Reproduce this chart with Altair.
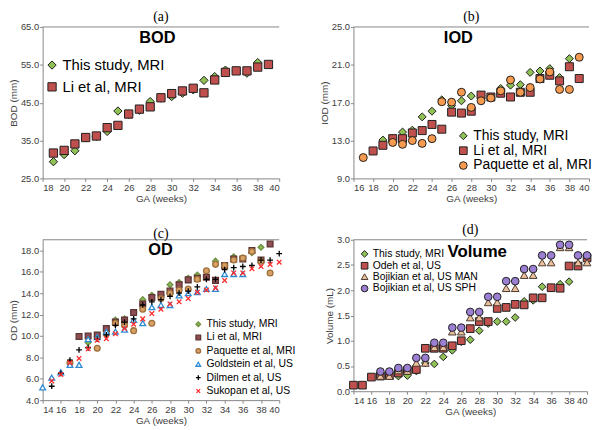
import altair as alt
import pandas as pd

# ---------------- (a) BOD ----------------
a_this_weeks = list(range(19, 39))
a_this_vals = [29.4, 31.3, 32.3, 35.7, 36.1, 37.4, 42.8, 41.9, 43.0, 45.3, 46.2, 46.6,
               47.5, 48.4, 50.9, 51.9, 53.6, 53.4, 52.8, 55.6]
a_li_weeks = list(range(19, 40))
a_li_vals = [31.7, 32.4, 34.1, 35.8, 36.2, 38.4, 39.0, 42.0, 43.3, 43.9, 46.3, 47.4,
             48.1, 48.8, 47.6, 51.0, 53.0, 53.4, 53.4, 54.4, 55.1]

# ---------------- (b) IOD ----------------
b_this_weeks = list(range(19, 39))
b_this_vals = [13.05, 13.2, 13.9, 14.1, 15.5, 16.1, 17.3, 16.7, 17.2, 17.7, 17.8, 17.6,
               18.5, 18.85, 18.9, 20.2, 20.35, 20.6, 19.65, 21.65]
b_li_weeks = list(range(18, 40))
b_li_vals = [11.9, 12.5, 13.2, 13.2, 13.8, 14.05, 14.7, 14.2, 16.0, 15.9, 16.1, 17.8,
             17.6, 18.0, 17.6, 18.1, 18.1, 19.55, 19.9, 19.3, 20.8, 19.55]
b_paq_weeks = [17] + list(range(20, 40))
b_paq_vals = [11.2, 12.8, 12.6, 13.0, 12.7, 13.2, 17.1, 17.05, 18.1, 16.5, 17.2, 17.5,
              18.25, 19.4, 18.1, 18.6, 19.5, 20.25, 18.4, 18.4, 21.8]

# ---------------- (c) OD ----------------
c_this_weeks = list(range(19, 39))
c_this_vals = [9.4, 9.9, 10.5, 11.5, 11.6, 12.2, 13.4, 13.8, 13.8, 14.8, 15.0, 15.4,
               15.7, 15.6, 17.0, 16.6, 17.4, 17.3, 17.8, 18.3]
c_li_weeks = list(range(18, 40))
c_li_vals = [9.95, 10.0, 10.1, 10.7, 11.3, 11.5, 12.2, 13.0, 13.6, 13.9, 14.2, 14.8,
             15.25, 15.4, 15.5, 15.2, 16.6, 17.2, 17.2, 18.0, 17.1, 18.6]
c_paq_weeks = [17] + list(range(20, 40))
c_paq_vals = [7.5, 8.85, 10.2, 11.2, 11.0, 10.5, 12.5, 11.2, 13.5, 14.0, 14.3, 14.4,
              15.3, 16.1, 16.7, 16.6, 17.1, 17.3, 17.9, 17.0, 15.9]
c_gold_weeks = list(range(14, 37))
c_gold_vals = [5.2, 6.1, 6.6, 7.3, 7.3, 9.7, 9.9, 10.4, 10.4, 10.6, 11.5, 11.2, 12.7,
               12.9, 12.9, 13.8, 14.0, 14.1, 14.4, 14.4, 15.8, 15.8, 15.8]
c_dil_weeks = list(range(15, 41))
c_dil_vals = [5.3, 6.5, 7.75, 8.7, 8.9, 9.7, 10.1, 11.0, 11.3, 11.6, 12.9, 13.2, 13.4,
              13.7, 14.0, 14.2, 14.6, 15.3, 15.3, 16.2, 16.4, 16.5, 16.6, 17.1, 17.1, 17.7]
c_suk_weeks = list(range(15, 41))
c_suk_vals = [5.8, 6.4, 7.5, 7.9, 8.8, 9.6, 9.75, 10.2, 10.7, 11.1, 11.6, 12.1, 12.5,
              13.0, 13.2, 13.5, 14.1, 14.3, 14.5, 15.2, 15.9, 15.9, 16.3, 16.5, 16.7, 16.9]

# ---------------- (d) Volume ----------------
d_this_weeks = list(range(19, 39))
d_this_vals = [0.30, 0.31, 0.40, 0.56, 0.54, 0.68, 0.81, 0.98, 1.02, 1.20, 1.34, 1.38,
               1.38, 1.46, 1.78, 1.80, 2.07, 2.05, 2.12, 2.17]
d_odeh_weeks = list(range(14, 41))
d_odeh_vals = [0.12, 0.12, 0.28, 0.30, 0.31, 0.36, 0.41, 0.43, 0.85, 0.85, 0.85, 0.90,
               1.00, 1.24, 1.38, 1.38, 1.64, 1.66, 1.72, 1.71, 1.85, 1.85, 2.05, 2.04,
               2.48, 2.48, 2.64]
d_man_weeks = list(range(17, 41))
d_man_vals = [0.30, 0.30, 0.41, 0.40, 0.56, 0.56, 0.87, 0.87, 1.18, 1.18, 1.46, 1.46,
              1.76, 1.76, 2.04, 2.04, 2.30, 2.30, 2.55, 2.55, 2.85, 2.85, 2.55, 2.55]
d_sph_weeks = list(range(17, 41))
d_sph_vals = [0.39, 0.39, 0.46, 0.46, 0.66, 0.66, 0.96, 0.96, 1.26, 1.26, 1.57, 1.57,
              1.87, 1.87, 2.18, 2.18, 2.42, 2.42, 2.69, 2.69, 2.90, 2.90, 2.69, 2.69]

FONT = "Liberation Sans"
SERIF = "Liberation Serif"
AXC = "#868686"
TXT = "#404040"
PLUS = "M-1,0L1,0M0,-1L0,1"
XMARK = "M-0.8,-0.8L0.8,0.8M0.8,-0.8L-0.8,0.8"


def make_df(groups):
    rows = []
    for name, weeks, vals in groups:
        for w, v in zip(weeks, vals):
            rows.append({"series": name, "ga": w, "val": v})
    return pd.DataFrame(rows)


def panel(letter, label, label_xy, label_size, ytitle, groups, shapes, fills, strokes,
          xdom, ydom, yvals, w, h, size, sw, lx, ly, lfs, lsym, lrow):
    df = make_df(groups)
    names = [g[0] for g in groups]
    leg = alt.Legend(orient="none", legendX=lx, legendY=ly, title=None,
                     labelFont=FONT, labelFontSize=lfs, labelColor="#000000",
                     symbolSize=lsym, rowPadding=lrow, padding=0, labelOffset=3,
                     symbolStrokeWidth=sw, values=names, labelLimit=400)
    x = alt.X("ga:Q", scale=alt.Scale(domain=xdom, nice=False, zero=False),
              axis=alt.Axis(values=list(range(xdom[0], xdom[1] + 1, 2)), title="GA (weeks)",
                            format="d"))
    y = alt.Y("val:Q", scale=alt.Scale(domain=ydom, nice=False, zero=False),
              axis=alt.Axis(values=yvals, format=".1f", title=ytitle))
    pts = alt.Chart(df).mark_point(filled=True, size=size, strokeWidth=sw, opacity=1).encode(
        x=x, y=y,
        shape=alt.Shape("series:N", scale=alt.Scale(domain=names, range=shapes), legend=leg),
        fill=alt.Fill("series:N", scale=alt.Scale(domain=names, range=fills), legend=leg),
        stroke=alt.Stroke("series:N", scale=alt.Scale(domain=names, range=strokes), legend=leg),
    )
    top = alt.Chart(pd.DataFrame({"k": [0]})).mark_rule(color=AXC, strokeWidth=1).encode(
        x=alt.value(0), x2=alt.value(w), y=alt.value(0))
    txt = alt.Chart(pd.DataFrame({"t": [label]})).mark_text(
        font=FONT, fontWeight="bold", fontSize=label_size, color="#000000",
        baseline="middle", align="center").encode(
        text="t:N", x=alt.value(label_xy[0]), y=alt.value(label_xy[1]))
    return alt.layer(top, pts, txt).properties(
        width=w, height=h,
        title=alt.TitleParams(letter, font=SERIF, fontSize=14, fontWeight="normal",
                              color="#000000", anchor="middle", offset=-2))


GREEN = "#8FC155"
RED = "#C0504D"
ORANGE = "#F59A4E"
DARK = "#1f1f1f"

pa = panel("(a)", "BOD", (116, 11), 16.5, "BOD (mm)",
           [("This study, MRI", a_this_weeks, a_this_vals),
            ("Li et al, MRI", a_li_weeks, a_li_vals)],
           ["diamond", "square"], [GREEN, RED], [DARK, DARK],
           [18, 40], [25, 65], [25, 35, 45, 55, 65], 239, 153, 70, 1,
           2, 31, 15, 70, 6)

pb = panel("(b)", "IOD", (106, 11), 16.5, "IOD (mm)",
           [("This study, MRI", b_this_weeks, b_this_vals),
            ("Li et al, MRI", b_li_weeks, b_li_vals),
            ("Paquette et al, MRI", b_paq_weeks, b_paq_vals)],
           ["diamond", "square", "circle"], [GREEN, RED, ORANGE], [DARK, DARK, DARK],
           [16, 40], [9, 25], [9, 13, 17, 21, 25], 238, 153, 65, 1,
           104, 103, 14, 60, 1)

pc = panel("(c)", "OD", (119, 10), 16.5, "OD (mm)",
           [("This study, MRI", c_this_weeks, c_this_vals),
            ("Li et al, MRI", c_li_weeks, c_li_vals),
            ("Paquette et al, MRI", c_paq_weeks, c_paq_vals),
            ("Goldstein et al, US", c_gold_weeks, c_gold_vals),
            ("Dilmen et al, US", c_dil_weeks, c_dil_vals),
            ("Sukopan et al, US", c_suk_weeks, c_suk_vals)],
           ["diamond", "square", "circle", "triangle-up", PLUS, XMARK],
           ["#8DB85A", "#8E4E52", "#D9A066", "#FFFFFF", "#000000", "#FF2A2A"],
           ["#6E9140", "#5E3535", "#9C6E3A", "#2D8BD6", "#000000", "#FF2A2A"],
           [14, 40], [4, 19], [4, 6, 8, 10, 12, 14, 16, 18], 239, 162, 34, 1.3,
           152, 80, 10.5, 22, 2.5)

pd_ = panel("(d)", "Volume", (125, 12), 17, "Volume (mL)",
            [("This study, MRI", d_this_weeks, d_this_vals),
             ("Odeh et al, US", d_odeh_weeks, d_odeh_vals),
             ("Bojikian et al, US MAN", d_man_weeks, d_man_vals),
             ("Bojikian et al, US SPH", d_sph_weeks, d_sph_vals)],
            ["diamond", "square", "triangle-up", "circle"],
            [GREEN, RED, "#EBC09C", "#9B7FD2"], [DARK, DARK, "#4a3a30", DARK],
            [14, 40], [0, 3], [0, 0.5, 1, 1.5, 2, 2.5, 3], 236, 153, 60, 1,
            6, 9, 10.5, 45, 0)

chart = alt.concat(pa, pb, pc, pd_, columns=2, spacing={"row": 62, "column": 75},
                   bounds="flush").resolve_scale(
    shape="independent", fill="independent", stroke="independent",
    x="independent", y="independent"
).resolve_legend(
    shape="independent", fill="independent", stroke="independent"
).properties(
    padding={"left": 0, "top": 0, "right": 0, "bottom": 0}
).configure_view(stroke=None).configure_axis(
    grid=False, domainColor=AXC, tickColor=AXC, tickSize=3, labelPadding=1,
    labelFont=FONT, labelFontSize=9.5, labelColor=TXT,
    titleFont=FONT, titleFontSize=10, titleFontWeight="normal", titleColor=TXT,
    titlePadding=2
)

chart.save("out.html", embed_options={"renderer": "svg", "actions": False})
